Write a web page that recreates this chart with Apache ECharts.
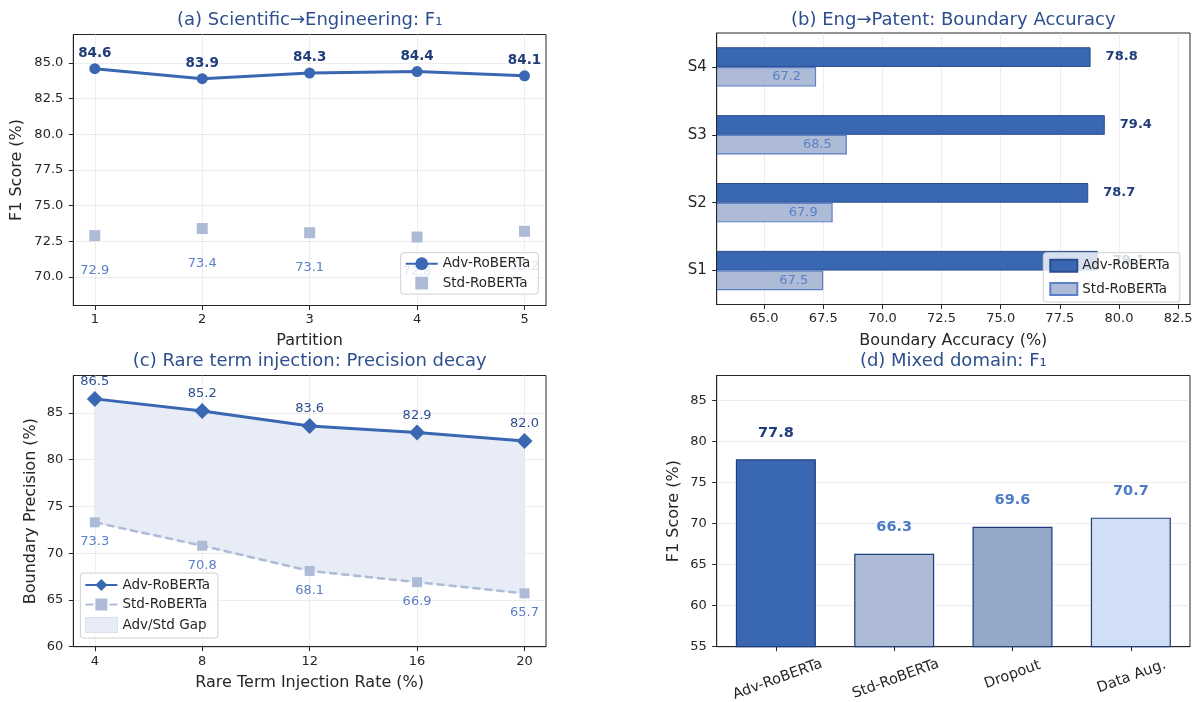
<!DOCTYPE html>
<html>
<head>
<meta charset="utf-8">
<script src="https://cdn.jsdelivr.net/npm/echarts@6/dist/echarts.min.js"></script>
<style>
  html, body { margin: 0; padding: 0; background: #ffffff; }
  #chart { width: 1199px; height: 702px; }
</style>
</head>
<body>
<div id="chart"></div>
<script>
// ---- data ----
// (a) Scientific -> Engineering, F1 per partition
const partitions = [1, 2, 3, 4, 5];
const sciEngAdv = [84.6, 83.9, 84.3, 84.4, 84.1];
const sciEngStd = [72.9, 73.4, 73.1, 72.8, 73.2];
const sciEngYTicks = [70, 72.5, 75, 77.5, 80, 82.5, 85];

// (b) Eng -> Patent, boundary accuracy per segment
const segments = ['S1', 'S2', 'S3', 'S4'];
const patentAdv = [79.1, 78.7, 79.4, 78.8];
const patentStd = [67.5, 67.9, 68.5, 67.2];
const patentXTicks = [65, 67.5, 70, 72.5, 75, 77.5, 80, 82.5];

// (c) Rare term injection, boundary precision
const injectionRates = [4, 8, 12, 16, 20];
const rareAdv = [86.5, 85.2, 83.6, 82.9, 82.0];
const rareStd = [73.3, 70.8, 68.1, 66.9, 65.7];
const rareYTicks = [60, 65, 70, 75, 80, 85];

// (d) Mixed domain, F1 per method
const methods = ['Adv-RoBERTa', 'Std-RoBERTa', 'Dropout', 'Data Aug.'];
const mixedF1 = [77.8, 66.3, 69.6, 70.7];
const mixedYTicks = [55, 60, 65, 70, 75, 80, 85];

// ---- styling ----
const FONT = 'DejaVu Sans';
const INK = '#262626';
const ADV = '#3a67b2';
const ADV_EDGE = '#2a4d8f';
const STD = '#aebbd7';
const STD_EDGE = '#5b80c8';
const NAVY = '#1f3d7a';
const TITLE = '#2d4f8e';
const STD_TEXT = '#5a80c6';
const GAP_FILL = '#e7ecf6';
const GRID_LINE = { show: true, lineStyle: { type: 'dotted', color: '#d2d2d2', width: 0.8 } };
const MIXED_FILL = [ADV, STD, '#94a8c8', '#d0def6'];
const MIXED_TEXT = [NAVY, '#4e7bc6', '#4e7bc6', '#4e7bc6'];
// extra top padding so each rotated method label hangs at the same depth below its tick
const METHOD_LABEL_PAD = [10, 9, 0, 4];

const LEGEND_TEXT = {
  advA: 'Adv-RoBERTa', stdA: 'Std-RoBERTa',
  advB: 'Adv-RoBERTa', stdB: 'Std-RoBERTa',
  advC: 'Adv-RoBERTa', stdC: 'Std-RoBERTa', gapC: 'Adv/Std Gap'
};

const fix1 = v => Number(v).toFixed(1);
const pairs = (xs, ys) => xs.map((x, i) => [x, ys[i]]);

function axis(gridIndex, extra) {
  const base = {
    gridIndex,
    nameLocation: 'middle',
    nameTextStyle: { color: INK, fontSize: 16, fontFamily: FONT },
    axisLine: { show: true, onZero: false, lineStyle: { color: INK, width: 1 } },
    axisTick: { show: true, inside: false, length: 4.5, lineStyle: { color: INK, width: 1 } },
    axisLabel: { color: INK, fontSize: 13, fontFamily: FONT, margin: 8 },
    splitLine: { show: false }
  };
  const out = Object.assign({}, base, extra);
  out.axisTick = Object.assign({}, base.axisTick, extra.axisTick || {});
  out.axisLabel = Object.assign({}, base.axisLabel, extra.axisLabel || {});
  return out;
}

function legendBox(extra) {
  return Object.assign({
    orient: 'vertical',
    selectedMode: false,
    backgroundColor: 'rgba(255,255,255,0.8)',
    borderColor: '#d0d0d0',
    borderWidth: 1,
    borderRadius: 3,
    padding: [4, 8, 4, 4],
    itemGap: 5.4,
    itemWidth: 32,
    itemHeight: 16,
    formatter: n => LEGEND_TEXT[n],
    textStyle: { color: INK, fontSize: 13.5, fontFamily: FONT }
  }, extra);
}

const titleStyle = { fontFamily: FONT, fontSize: 18, fontWeight: 'normal', color: TITLE };

const methodRich = {};
METHOD_LABEL_PAD.forEach((p, i) => { methodRich['p' + i] = { padding: [p, 0, 0, 0] }; });

const option = {
  animation: false,
  backgroundColor: '#ffffff',
  textStyle: { fontFamily: FONT },
  title: [
    { text: '(a) Scientific→Engineering: F₁', left: 309.7, top: 11 },
    { text: '(b) Eng→Patent: Boundary Accuracy', left: 953.3, top: 11 },
    { text: '(c) Rare term injection: Precision decay', left: 309.7, top: 352.5 },
    { text: '(d) Mixed domain: F₁', left: 953.3, top: 352.5 }
  ].map(t => Object.assign({ textAlign: 'center', padding: 0, textStyle: titleStyle }, t)),
  grid: [
    { left: 73.3, top: 34.5, width: 472.7, height: 271 },
    { left: 716.7, top: 33, width: 473.3, height: 271.5 },
    { left: 73.3, top: 375.5, width: 472.7, height: 271.2 },
    { left: 716.7, top: 375.5, width: 473.3, height: 271.2 }
  ].map(g => Object.assign({ show: true, borderColor: INK, borderWidth: 1, backgroundColor: 'transparent', containLabel: false, outerBoundsMode: 'none' }, g)),
  xAxis: [
    axis(0, {
      type: 'value', min: 0.8, max: 5.2, name: 'Partition', nameGap: 27,
      axisTick: { customValues: partitions },
      axisLabel: { customValues: partitions },
      splitLine: GRID_LINE
    }),
    axis(1, {
      type: 'value', min: 63, max: 83, name: 'Boundary Accuracy (%)', nameGap: 28,
      axisTick: { customValues: patentXTicks },
      axisLabel: { customValues: patentXTicks, formatter: fix1 },
      splitLine: GRID_LINE
    }),
    axis(2, {
      type: 'value', min: 3.2, max: 20.8, name: 'Rare Term Injection Rate (%)', nameGap: 28,
      axisTick: { customValues: injectionRates },
      axisLabel: { customValues: injectionRates },
      splitLine: GRID_LINE
    }),
    axis(3, {
      type: 'category', data: methods, boundaryGap: true,
      axisTick: { alignWithLabel: true },
      axisLabel: {
        rotate: 20, align: 'center', verticalAlign: 'middle', margin: 28, interval: 0, fontSize: 14.5,
        formatter: (v, i) => '{p' + i + '|' + v + '}',
        rich: methodRich
      }
    })
  ],
  yAxis: [
    axis(0, {
      type: 'value', min: 68, max: 87, name: 'F1 Score (%)', nameGap: 48,
      axisTick: { customValues: sciEngYTicks },
      axisLabel: { customValues: sciEngYTicks, formatter: fix1, margin: 10 },
      splitLine: GRID_LINE
    }),
    axis(1, {
      type: 'category', data: segments, boundaryGap: true, z: 5,
      axisTick: { alignWithLabel: true },
      axisLabel: { margin: 10, fontSize: 15 }
    }),
    axis(2, {
      type: 'value', min: 60, max: 89, name: 'Boundary Precision (%)', nameGap: 34,
      axisTick: { customValues: rareYTicks },
      axisLabel: { customValues: rareYTicks, margin: 10 },
      splitLine: GRID_LINE
    }),
    axis(3, {
      type: 'value', min: 55, max: 88, name: 'F1 Score (%)', nameGap: 35,
      axisTick: { customValues: mixedYTicks },
      axisLabel: { customValues: mixedYTicks, margin: 10 },
      splitLine: GRID_LINE
    })
  ],
  legend: [
    legendBox({ data: ['advA', 'stdA'], left: 400.7, top: 252.7 }),
    legendBox({
      data: ['advB', 'stdB'], icon: 'rect', left: 1043.3, top: 252.7,
      itemWidth: 27, itemHeight: 12, itemGap: 9.4, padding: [6, 10, 6, 6]
    }),
    legendBox({
      data: ['advC', 'stdC', { name: 'gapC', icon: 'rect', itemStyle: { color: GAP_FILL, borderColor: '#d9e0ee', borderWidth: 1 } }],
      left: 80.4, top: 573, itemHeight: 15, itemGap: 5.5, padding: [5, 8, 5, 4]
    })
  ],
  series: [
    // (a)
    {
      name: 'advA', type: 'line', xAxisIndex: 0, yAxisIndex: 0, z: 4,
      data: pairs(partitions, sciEngAdv),
      symbol: 'circle', symbolSize: 11, showSymbol: true,
      lineStyle: { color: ADV, width: 3 }, itemStyle: { color: ADV },
      label: { show: true, position: 'top', distance: 3, color: NAVY, fontWeight: 'bold', fontSize: 13.5, fontFamily: FONT, formatter: p => fix1(p.value[1]) }
    },
    {
      name: 'stdA', type: 'line', xAxisIndex: 0, yAxisIndex: 0, z: 3,
      data: pairs(partitions, sciEngStd),
      symbol: 'rect', symbolSize: 11, showSymbol: true,
      lineStyle: { color: STD, width: 0, opacity: 0 }, itemStyle: { color: STD },
      label: { show: true, position: 'bottom', distance: 23, color: STD_TEXT, fontSize: 13, fontFamily: FONT, formatter: p => fix1(p.value[1]) }
    },
    // (b) first series sits on the upper half of each category band
    {
      name: 'advB', type: 'bar', xAxisIndex: 1, yAxisIndex: 1,
      data: patentAdv, barWidth: '29%', barGap: '0%',
      itemStyle: { color: ADV, borderColor: ADV_EDGE, borderWidth: 1 },
      label: { show: true, position: 'right', distance: 15, color: NAVY, fontWeight: 'bold', fontSize: 13, fontFamily: FONT, formatter: p => fix1(p.value) }
    },
    {
      name: 'stdB', type: 'bar', xAxisIndex: 1, yAxisIndex: 1,
      data: patentStd, barWidth: '29%', barGap: '0%',
      itemStyle: { color: STD, borderColor: STD_EDGE, borderWidth: 1.2 },
      label: { show: true, position: 'insideRight', distance: 15, color: STD_TEXT, fontSize: 13, fontFamily: FONT, formatter: p => fix1(p.value) }
    },
    // (c) shaded band between the Adv and Std curves
    {
      name: 'gapC', type: 'custom', xAxisIndex: 2, yAxisIndex: 2, z: 1, silent: true,
      data: pairs(injectionRates, rareAdv),
      itemStyle: { color: GAP_FILL },
      clip: true,
      renderItem: (params, api) => {
        if (params.dataIndex !== 0) return null;
        const upper = injectionRates.map((x, i) => api.coord([x, rareAdv[i]]));
        const lower = injectionRates.map((x, i) => api.coord([x, rareStd[i]])).reverse();
        return {
          type: 'polygon',
          shape: { points: upper.concat(lower) },
          style: { fill: GAP_FILL, stroke: '#dde3f0', lineWidth: 0.8 }
        };
      }
    },
    {
      name: 'stdC', type: 'line', xAxisIndex: 2, yAxisIndex: 2, z: 3,
      data: pairs(injectionRates, rareStd),
      symbol: 'rect', symbolSize: 10, showSymbol: true,
      lineStyle: { color: STD, width: 2.5, type: [8, 4] }, itemStyle: { color: STD },
      label: { show: true, position: 'bottom', distance: 8, color: STD_TEXT, fontSize: 13, fontFamily: FONT, formatter: p => fix1(p.value[1]) }
    },
    {
      name: 'advC', type: 'line', xAxisIndex: 2, yAxisIndex: 2, z: 4,
      data: pairs(injectionRates, rareAdv),
      symbol: 'diamond', symbolSize: 16, showSymbol: true,
      lineStyle: { color: ADV, width: 3 }, itemStyle: { color: ADV },
      label: { show: true, position: 'top', distance: 2.5, color: TITLE, fontSize: 13, fontFamily: FONT, formatter: p => fix1(p.value[1]) }
    },
    // (d)
    {
      name: 'mixedD', type: 'bar', xAxisIndex: 3, yAxisIndex: 3,
      data: mixedF1.map((v, i) => ({
        value: v,
        itemStyle: { color: MIXED_FILL[i] },
        label: { color: MIXED_TEXT[i] }
      })),
      barWidth: 80,
      itemStyle: { borderColor: NAVY, borderWidth: 1.2 },
      label: { show: true, position: 'top', distance: 19, fontWeight: 'bold', fontSize: 14.5, fontFamily: FONT, formatter: p => fix1(p.value) }
    }
  ]
};

const chart = echarts.init(document.getElementById('chart'), null, { renderer: 'canvas' });
chart.setOption(option);
</script>
</body>
</html>
